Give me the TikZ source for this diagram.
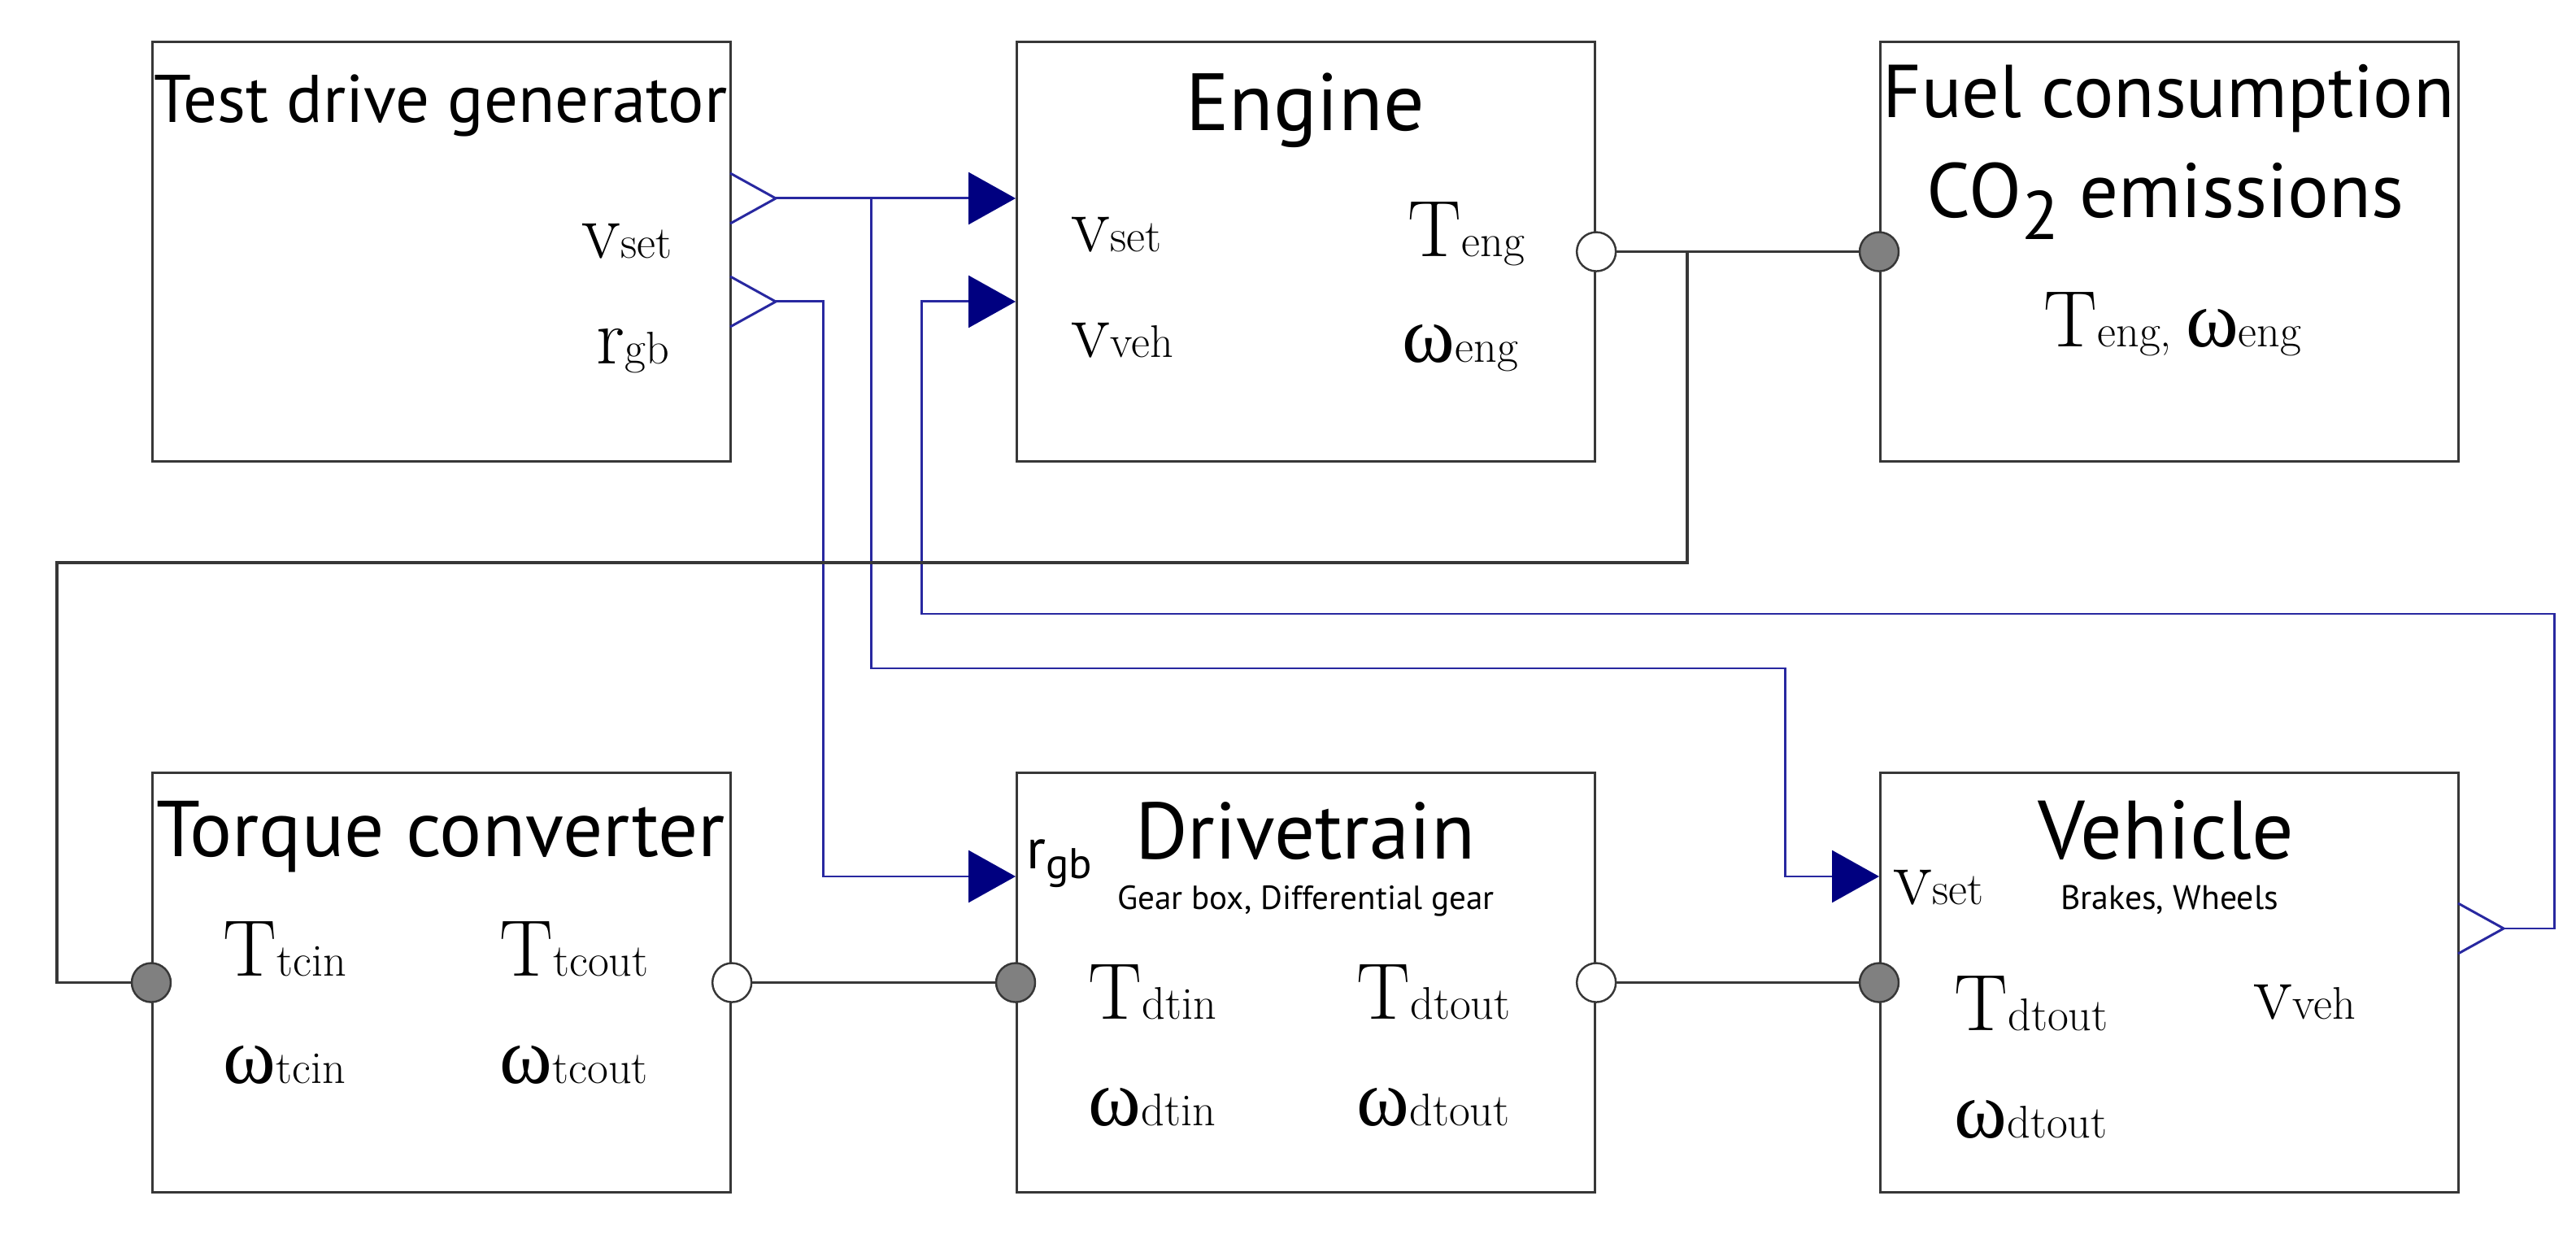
\RequirePackage{fix-cm}
\documentclass[tikz,border=0pt]{standalone}
\usepackage{fontspec}
\setsansfont{PT Sans}
\newfontfamily\grk{Liberation Serif}
\usetikzlibrary{arrows.meta}

\definecolor{wireblue}{RGB}{40,40,160}
\definecolor{portnavy}{RGB}{0,0,128}
\definecolor{wiregray}{RGB}{55,55,55}
\definecolor{portgray}{RGB}{128,128,128}

\newcommand{\quant}[2]{{\fontsize{28}{30}\selectfont #1}{\fontsize{16}{18}\selectfont #2}}
\newcommand{\omg}{{\grk ω}}

\tikzset{
 block/.style={draw=wiregray, line width=0.9pt, minimum width=7.11cm, minimum height=5.16cm, inner sep=0pt, anchor=north west},
 ttl/.style={font=\sffamily\fontsize{#1}{#1}\selectfont, inner sep=0pt, anchor=base},
 lbl/.style={inner sep=0pt, anchor=base west},
 inport/.style={circle, draw=wiregray, fill=portgray, line width=0.7pt, minimum size=0.48cm, inner sep=0pt},
 outport/.style={inport, fill=white},
 pwrwire/.style={draw=wiregray, line width=0.9pt},
 sigwire/.style={draw=wireblue, line width=0.85pt},
 sigin/.style={sigwire, -{Triangle[length=0.58cm, width=0.64cm, color=portnavy]}},
 outtri/.pic={\draw[wireblue, line width=0.85pt] (0,-0.31) -- (0.56,0) -- (0,0.31);}
}

\begin{document}
\begin{tikzpicture}[x=1cm, y=-1cm]
 \useasboundingbox (0,0) rectangle (31.68,15.19);

 \node[block] (tdg) at (1.86,0.50) {};
 \node[block] (eng) at (12.49,0.50) {};
 \node[block] (fuel) at (23.11,0.50) {};
 \node[block] (tc) at (1.86,9.49) {};
 \node[block] (dt) at (12.49,9.49) {};
 \node[block] (veh) at (23.11,9.49) {};

 \node[ttl=23.6] (tdgTitle) at (5.42,1.51) {Test drive generator};
 \node[ttl=28.4] (engTitle) at (16.05,1.61) {Engine};
 \node[ttl=26.2] (fuelTitle) at (26.67,1.45) {Fuel consumption};
 \node[ttl=27] (fuelTitleB) at (26.63,2.68) {CO\raisebox{-0.27cm}{\fontsize{24}{24}\selectfont 2} emissions};
 \node[ttl=27.7] (tcTitle) at (5.42,10.54) {Torque converter};
 \node[ttl=28.1] (dtTitle) at (16.05,10.57) {Drivetrain};
 \node[ttl=11.7] (dtSub) at (16.06,11.19) {Gear box, Differential gear};
 \node[ttl=29] (vehTitle) at (26.64,10.57) {Vehicle};
 \node[ttl=11.9] (vehSub) at (26.68,11.19) {Brakes, Wheels};

 \node[lbl] (tdgVset) at (7.15,3.18) {\quant{v}{set}};
 \node[lbl] (tdgRgb) at (7.33,4.48) {\quant{r}{gb}};
 \node[lbl] (engVset) at (13.17,3.10) {\quant{v}{set}};
 \node[lbl] (engVveh) at (13.17,4.40) {\quant{v}{veh}};
 \node[lbl] (engT) at (17.31,3.16) {\quant{T}{eng}};
 \node[lbl] (engW) at (17.24,4.46) {\quant{\omg}{eng}};
 \node[lbl, anchor=base] (fuelTW) at (26.72,4.27) {\quant{T}{eng, }\quant{\omg}{eng}};
 \node[lbl] (tcTin) at (2.74,12.01) {\quant{T}{tcin}};
 \node[lbl] (tcTout) at (6.14,12.01) {\quant{T}{tcout}};
 \node[lbl] (tcWin) at (2.74,13.33) {\quant{\omg}{tcin}};
 \node[lbl] (tcWout) at (6.14,13.33) {\quant{\omg}{tcout}};
 \node[lbl] (dtRgb) at (12.62,10.69) {\sffamily\fontsize{20}{20}\selectfont r\raisebox{-0.12cm}{\fontsize{15}{15}\selectfont gb}};
 \node[lbl] (dtTin) at (13.38,12.54) {\quant{T}{dtin}};
 \node[lbl] (dtTout) at (16.68,12.54) {\quant{T}{dtout}};
 \node[lbl] (dtWin) at (13.38,13.85) {\quant{\omg}{dtin}};
 \node[lbl] (dtWout) at (16.68,13.85) {\quant{\omg}{dtout}};
 \node[lbl] (vehVset) at (23.28,11.13) {\quant{v}{set}};
 \node[lbl] (vehT) at (24.03,12.68) {\quant{T}{dtout}};
 \node[lbl] (vehVveh) at (27.71,12.54) {\quant{v}{veh}};
 \node[lbl] (vehW) at (24.03,14.00) {\quant{\omg}{dtout}};

 \node[outport] (engOut) at (eng.east) {};
 \node[inport] (fuelIn) at (fuel.west) {};
 \node[inport] (tcIn) at (tc.west) {};
 \node[outport] (tcOut) at (tc.east) {};
 \node[inport] (dtIn) at (dt.west) {};
 \node[outport] (dtOut) at (dt.east) {};
 \node[inport] (vehIn) at (veh.west) {};

 \pic at (8.98,2.44) {outtri};
 \pic at (8.98,3.71) {outtri};
 \pic at (30.23,11.42) {outtri};
 \coordinate (tdgV) at (9.54,2.44);
 \coordinate (tdgR) at (9.54,3.71);
 \coordinate (vehV) at (30.79,11.42);
 \coordinate (engVs) at (12.49,2.44);
 \coordinate (engVv) at (12.49,3.71);
 \coordinate (dtR) at (12.49,10.78);
 \coordinate (vehVs) at (23.11,10.78);
 \coordinate (jV) at (10.71,2.44);
 \coordinate (jT) at (20.75,3.08);

 \draw[sigin] (tdgV) -- (engVs);
 \draw[sigin] (jV) |- (21.95,8.22) |- (vehVs);
 \draw[sigin] (tdgR) -| (10.12,10.78) -- (dtR);
 \draw[sigin] (vehV) -| (31.41,7.55) -| (11.33,3.71) -- (engVv);

 \draw[pwrwire] (engOut) -- (fuelIn);
 \draw[pwrwire] (jT) |- (0.70,6.92) |- (tcIn);
 \draw[pwrwire] (tcOut) -- (dtIn);
 \draw[pwrwire] (dtOut) -- (vehIn);
\end{tikzpicture}
\end{document}
